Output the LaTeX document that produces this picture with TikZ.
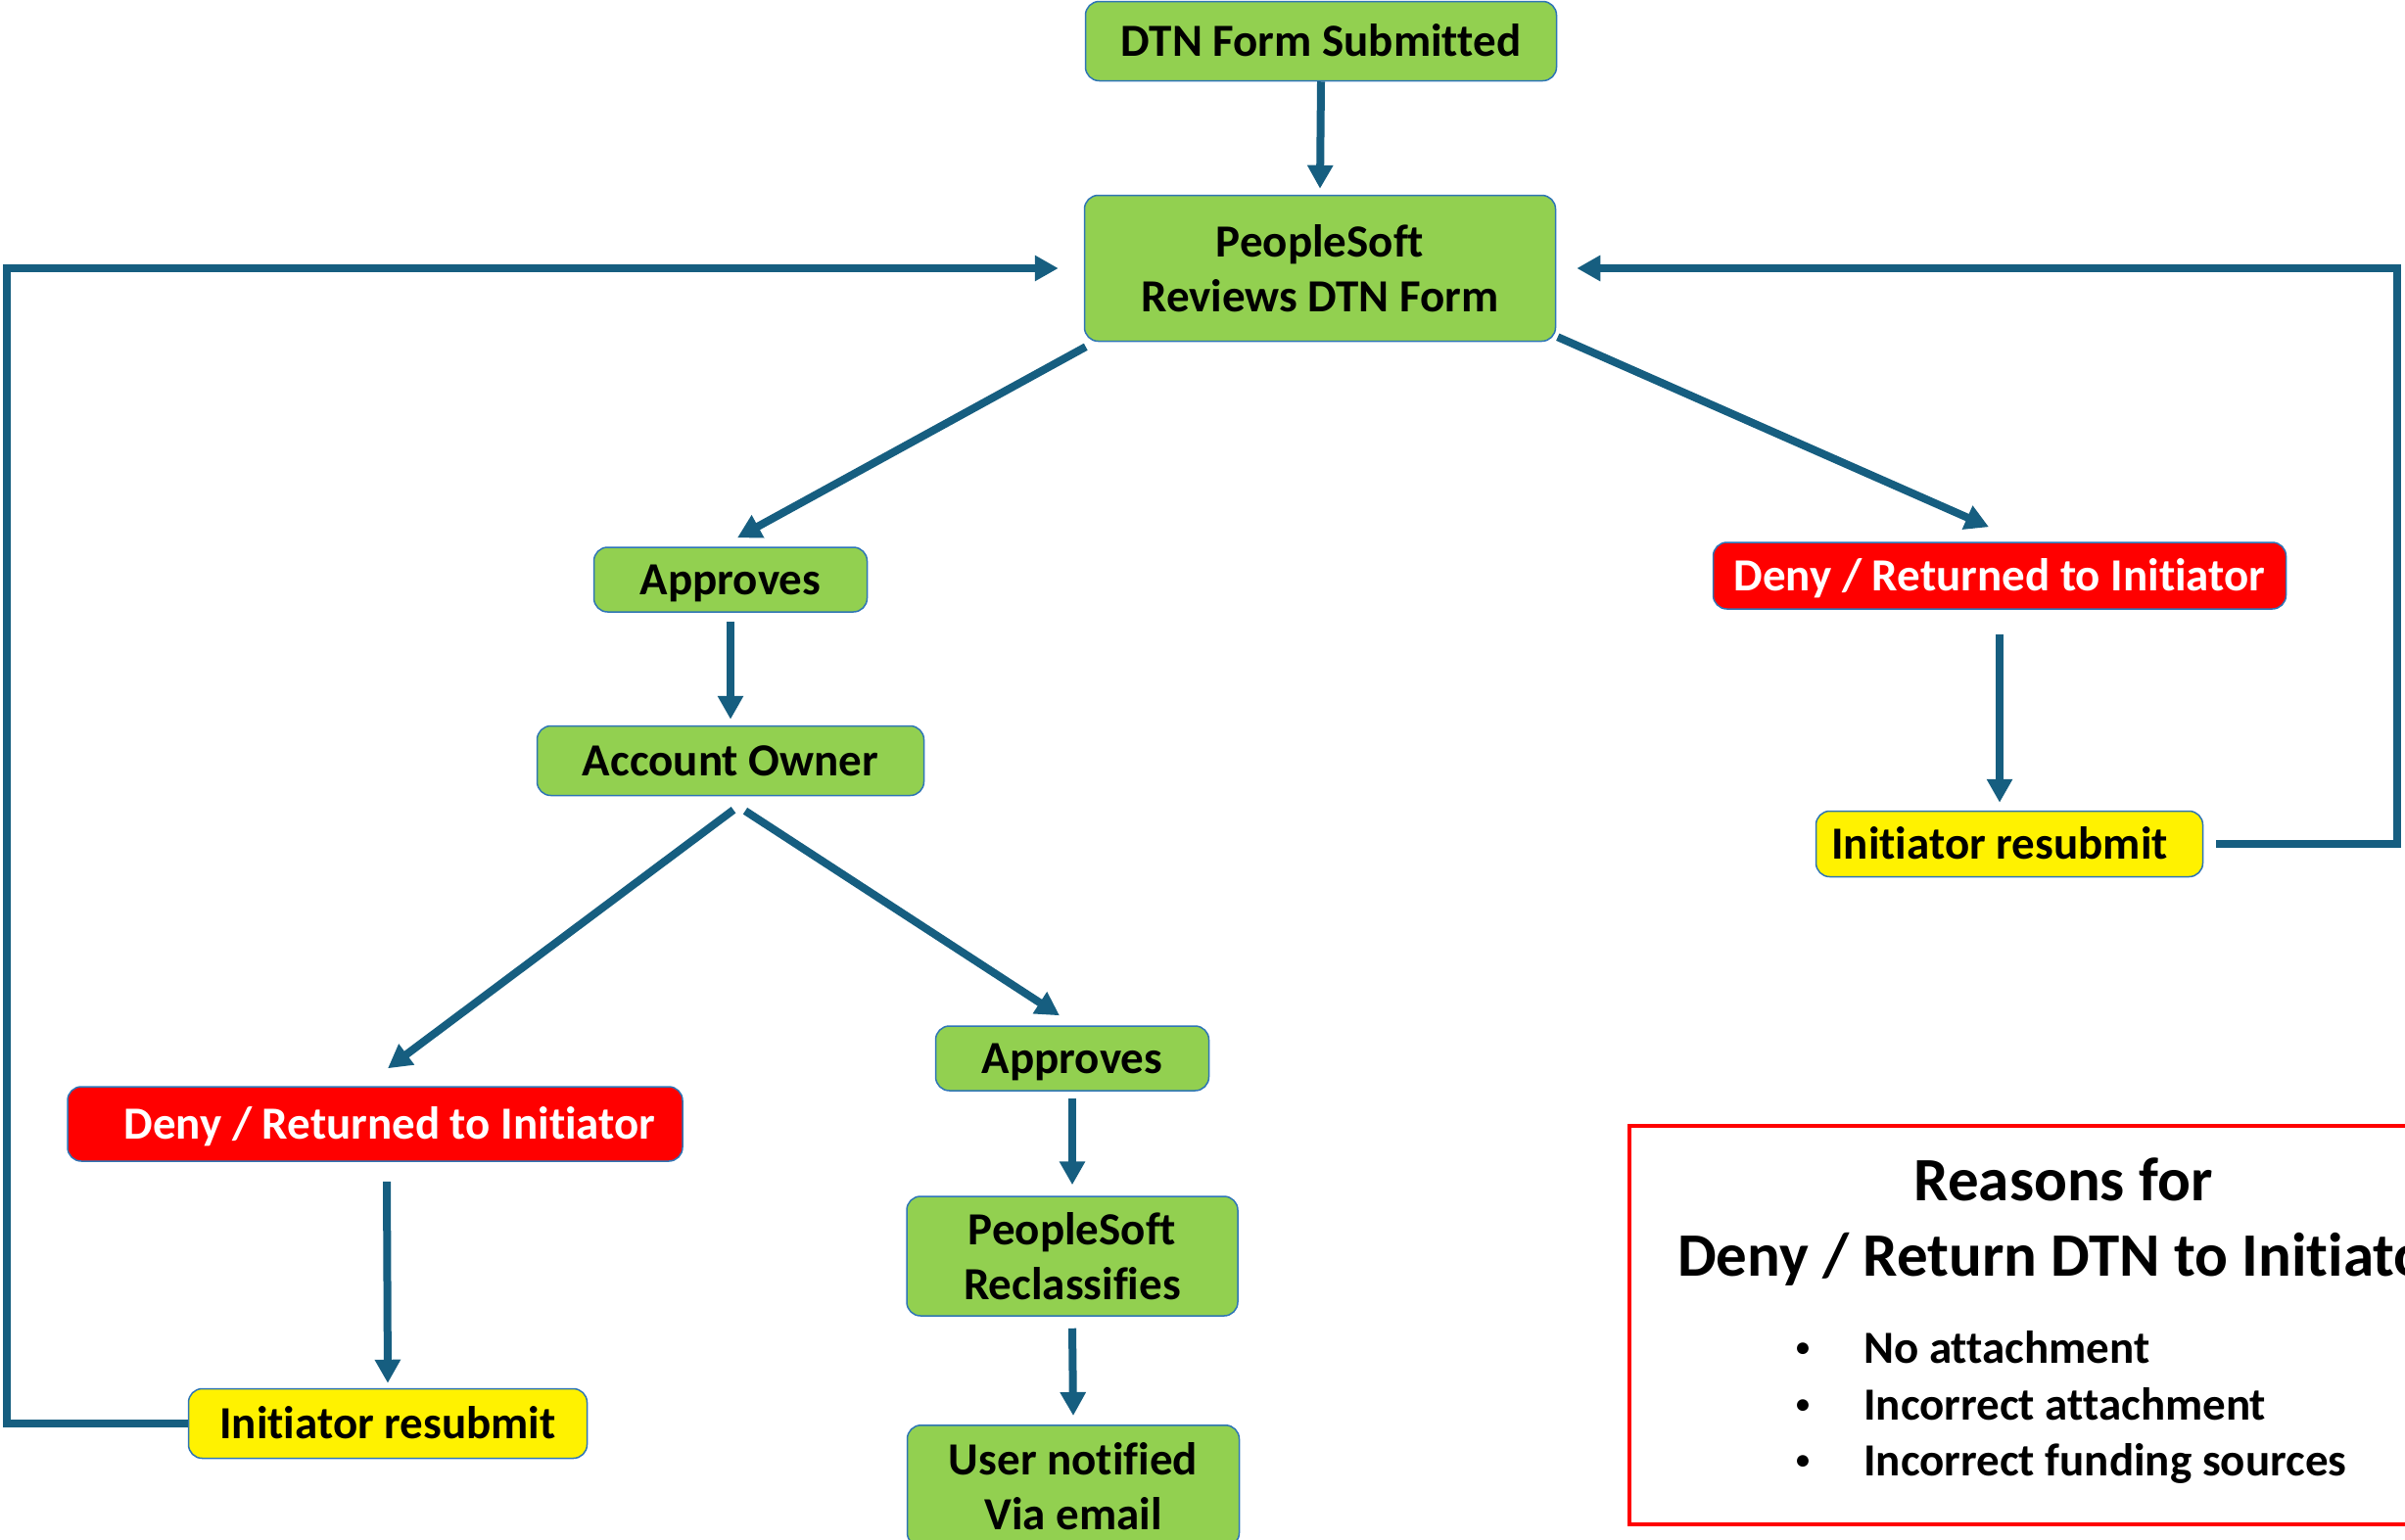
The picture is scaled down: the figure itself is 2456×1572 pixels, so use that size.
\documentclass[tikz,border=0pt]{standalone}
\usepackage{fontspec}
\setmainfont{Carlito}[Ligatures=NoCommon]
\usetikzlibrary{arrows.meta}
\definecolor{boxgreen}{RGB}{146,208,80}
\definecolor{arrowblue}{RGB}{22,94,128}
\definecolor{edgeblue}{RGB}{46,117,182}
\tikzset{
  box/.style={draw=edgeblue, line width=1.5pt, rounded corners=14pt, fill=boxgreen,
    font=\fontsize{47}{56}\selectfont\bfseries, align=center, inner sep=0pt},
  oneline/.style={text height=38pt, text depth=8pt},
  redbox/.style={box, fill=red, text=white},
  yellowbox/.style={box, fill=yellow},
  arr/.style={draw=arrowblue, line width=8pt, -{Triangle[width=25pt,length=24pt]}},
  bul/.style={font=\fontsize{47}{56}\selectfont\bfseries, inner sep=0pt, anchor=base west},
  ttl/.style={font=\fontsize{63}{77}\selectfont\bfseries, inner sep=0pt, anchor=base},
}
\newcommand{\smallbullet}{\makebox[73pt][l]{\hspace*{4pt}\raisebox{7pt}{\fontsize{28}{28}\selectfont •}}}
\begin{document}
\begin{tikzpicture}[x=1pt,y=-1pt]
\useasboundingbox (0,0) rectangle (2456,1572);
\fill[white] (0,0) rectangle (2456,1572);

% nodes
\node[box, oneline, minimum width=481pt, minimum height=81pt] (sub) at (1349,42) {DTN Form Submitted};
\node[box, minimum width=481pt, minimum height=149pt] (rev) at (1348,274) {PeopleSoft\\Reviews DTN Form};
\node[box, oneline, minimum width=279pt, minimum height=66pt] (app1) at (746,592) {Approves};
\node[box, oneline, minimum width=395pt, minimum height=71pt] (acc) at (746,777) {Account Owner};
\node[redbox, oneline, minimum width=585pt, minimum height=68pt] (denyR) at (2042,588) {Deny / Returned to Initiator};
\node[yellowbox, oneline, minimum width=395pt, minimum height=67pt] (initR) at (2052,862) {Initiator resubmit\hspace*{20pt}};
\node[redbox, oneline, minimum width=628pt, minimum height=76pt] (denyL) at (383,1148) {\hspace*{30pt}Deny / Returned to Initiator};
\node[yellowbox, oneline, minimum width=407pt, minimum height=71pt] (initL) at (396,1454) {Initiator resubmit};
\node[box, oneline, minimum width=279pt, minimum height=66pt] (app2) at (1095,1081) {Approves};
\node[box, minimum width=338pt, minimum height=122pt] (recl) at (1095,1283) {PeopleSoft\\Reclassifies};
\node[box, minimum width=339pt, minimum height=124pt, anchor=north] (user) at (1096,1455) {User notified\\Via email};

% reasons box
\node[draw=red, line width=4pt, minimum width=890pt, minimum height=407pt, anchor=north west, inner sep=0pt] (reasons) at (1662,1148) {};
\node[ttl] (t1) at (2107,1226) {Reasons for};
\node[ttl] (t2) at (2107,1303) {Deny / Return DTN to Initiator};
\node[bul] (b1) at (1830,1392) {\smallbullet No attachment};
\node[bul] (b2) at (1830,1450) {\smallbullet Incorrect attachment};
\node[bul] (b3) at (1830,1507) {\smallbullet Incorrect funding sources};

% connectors
\draw[arr] (sub.south) -- ([yshift=6pt]rev.north);
\draw[arr] ([xshift=2pt,yshift=-5pt]rev.south west) -- ([xshift=7pt,yshift=9pt]app1.north);
\draw[arr] ([xshift=1.5pt,yshift=5pt]rev.south east) -- ([xshift=-11pt,yshift=15pt]denyR.north);
\draw[arr] ([yshift=-9pt]app1.south) -- ([yshift=6pt]acc.north);
\draw[arr] ([yshift=-25pt]denyR.south) -- ([xshift=-10pt,yshift=8pt]initR.north);
\draw[arr] ([xshift=3pt,yshift=-14pt]acc.south) -- ([xshift=13pt,yshift=18pt]denyL.north);
\draw[arr] ([xshift=15pt,yshift=-15pt]acc.south) -- ([xshift=-13pt,yshift=10pt]app2.north);
\draw[arr] ([xshift=12pt,yshift=-20pt]denyL.south) -- ([yshift=5pt]initL.north);
\draw[arr] ([yshift=-7pt]app2.south) -- ([yshift=11pt]recl.north);
\draw[arr] ([yshift=-12pt]recl.south) -- ([yshift=9pt]user.north);

% loops
\coordinate (lx) at (7,0);
\coordinate (rx) at (2448,0);
\draw[arr] (initL.west) -- (initL.west -| lx) |- ([xshift=-26pt]rev.west);
\draw[arr] ([xshift=13pt]initR.east) -- (initR.east -| rx) |- ([xshift=21pt]rev.east);
\end{tikzpicture}
\end{document}
